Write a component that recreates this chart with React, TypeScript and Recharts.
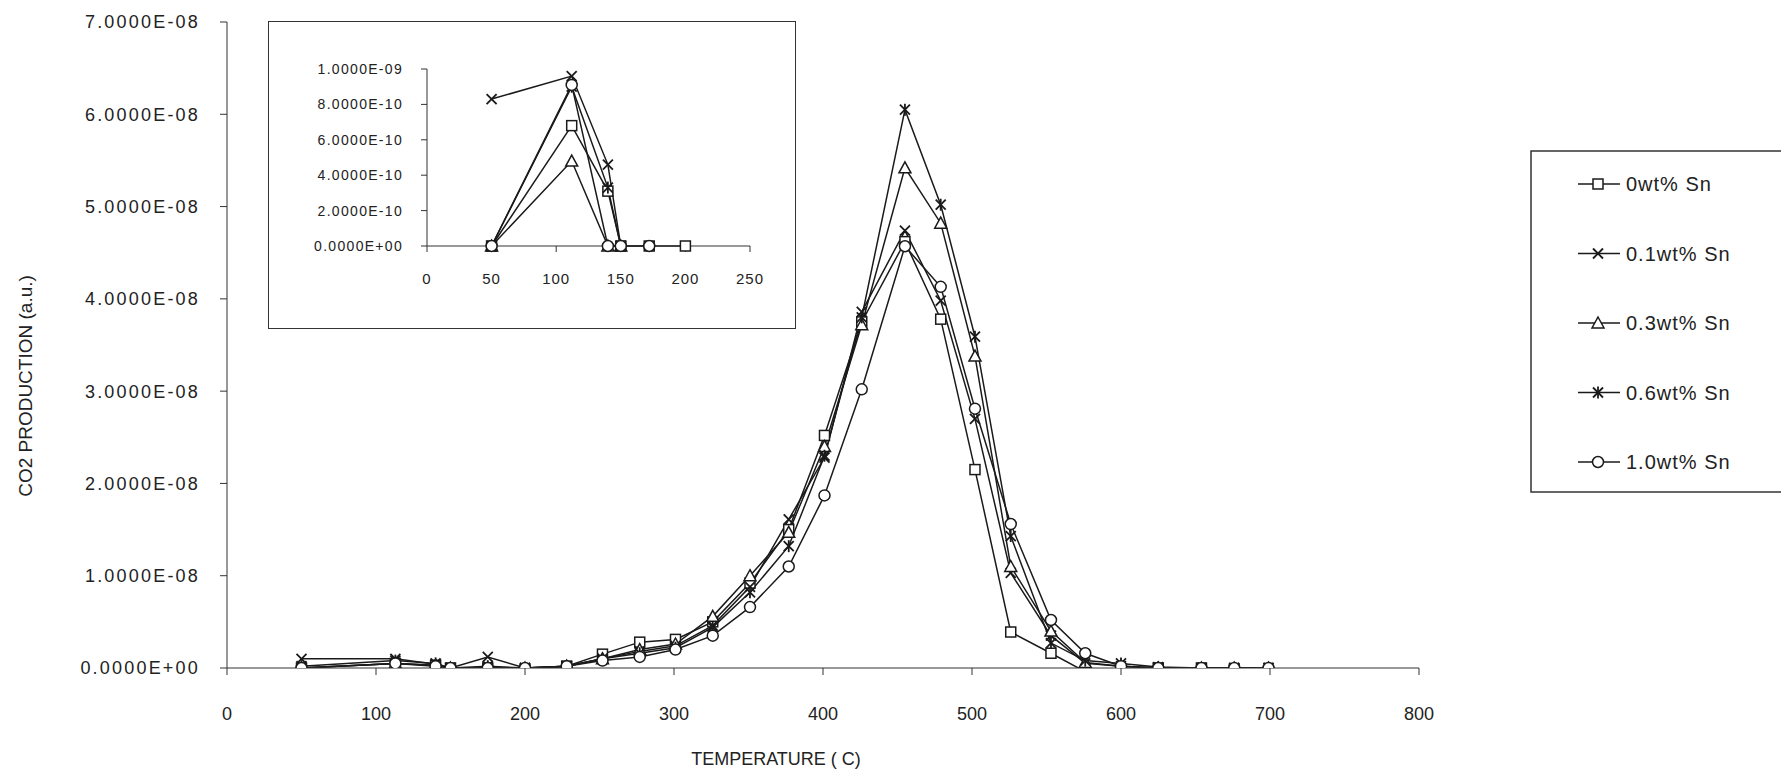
import { LineChart, Line, XAxis, YAxis, Label } from 'recharts';

// main chart: temperature (C) and CO2 production in units of 1E-08
const temps = [50, 113, 140, 150, 175, 200, 228, 252, 277, 301, 326, 351, 377, 401, 426, 455, 479, 502, 526, 553, 576, 600, 625, 654, 676, 699];
const sn0 = [0, 0.05, 0.03, 0, 0, -0.02, 0.02, 0.15, 0.28, 0.31, 0.5, 0.92, 1.5, 2.52, 3.75, 4.62, 3.78, 2.15, 0.39, 0.16, -0.04, -0.01, 0, 0, -0.02, -0.05];
const sn01 = [0.1, 0.1, 0.04, 0, 0.12, 0, 0.02, 0.1, 0.18, 0.24, 0.46, 0.88, 1.61, 2.28, 3.86, 4.74, 3.98, 2.7, 1.03, 0.35, 0.05, 0.02, 0, 0, 0, 0];
const sn03 = [0, 0.05, 0.03, 0, 0, 0, 0.02, 0.1, 0.2, 0.26, 0.56, 1.0, 1.47, 2.4, 3.72, 5.42, 4.82, 3.38, 1.1, 0.4, 0.06, 0.02, 0, 0, 0, 0];
const sn06 = [0.02, 0.08, 0.05, 0, 0.02, 0, 0.02, 0.1, 0.16, 0.22, 0.44, 0.82, 1.32, 2.3, 3.8, 6.05, 5.02, 3.59, 1.43, 0.27, 0.08, 0.05, 0.01, 0, 0, 0];
const sn10 = [0, 0.05, 0.02, 0, 0, 0, 0.02, 0.08, 0.12, 0.2, 0.35, 0.66, 1.1, 1.87, 3.02, 4.57, 4.13, 2.81, 1.56, 0.52, 0.16, 0.02, 0, 0, 0, 0];

// inset: low temperature region, units of 1E-10
const insetTemps = [50, 112, 140, 150, 172, 200];
const inSn0 = [0, 6.8, 3.1, 0, 0, 0];
const inSn01 = [8.3, 9.6, 4.6, 0, null, null];
const inSn03 = [0, 4.8, 0, 0, null, null];
const inSn06 = [0, 9.0, 3.3, 0, null, null];
const inSn10 = [0, 9.1, 0, 0, 0, null];

const xTicks = [0, 100, 200, 300, 400, 500, 600, 700, 800];
const yTicks = [0, 1, 2, 3, 4, 5, 6, 7];
const insetXTicks = [0, 50, 100, 150, 200, 250];
const insetYTicks = [0, 2, 4, 6, 8, 10];

const SERIES = [
  { key: 'sn0', name: '0wt% Sn', kind: 'square' },
  { key: 'sn01', name: '0.1wt% Sn', kind: 'cross' },
  { key: 'sn03', name: '0.3wt% Sn', kind: 'triangle' },
  { key: 'sn06', name: '0.6wt% Sn', kind: 'star' },
  { key: 'sn10', name: '1.0wt% Sn', kind: 'circle' },
];

const mainData = temps.map((t, i) => ({ t, sn0: sn0[i], sn01: sn01[i], sn03: sn03[i], sn06: sn06[i], sn10: sn10[i] }));
const insetData = insetTemps.map((t, i) => ({ t, sn0: inSn0[i], sn01: inSn01[i], sn03: inSn03[i], sn06: inSn06[i], sn10: inSn10[i] }));

const INK = '#1a1a1a';
const FONT = '"Liberation Sans", Arial, sans-serif';

const fmtE = (v: number) => {
  if (Math.abs(v) < 1e-20) return '0.0000E+00';
  const [m, e] = v.toExponential(4).split('e');
  const sign = e[0] === '-' ? '-' : '+';
  const digits = e.replace(/[+-]/, '').padStart(2, '0');
  return `${m}E${sign}${digits}`;
};

const Marker = ({ kind, cx, cy, s = 5 }: { kind: string; cx: number; cy: number; s?: number }) => {
  const sw = 1.5;
  switch (kind) {
    case 'square':
      return <rect x={cx - s} y={cy - s} width={s * 2} height={s * 2} fill="#fff" stroke={INK} strokeWidth={sw} />;
    case 'cross':
      return (
        <g stroke={INK} strokeWidth={sw + 0.3}>
          <line x1={cx - s} y1={cy - s} x2={cx + s} y2={cy + s} />
          <line x1={cx - s} y1={cy + s} x2={cx + s} y2={cy - s} />
        </g>
      );
    case 'triangle':
      return <polygon points={`${cx},${cy - s - 1} ${cx + s + 1},${cy + s} ${cx - s - 1},${cy + s}`} fill="#fff" stroke={INK} strokeWidth={sw} />;
    case 'star':
      return (
        <g stroke={INK} strokeWidth={sw + 0.3}>
          <line x1={cx - s} y1={cy - s} x2={cx + s} y2={cy + s} />
          <line x1={cx - s} y1={cy + s} x2={cx + s} y2={cy - s} />
          <line x1={cx} y1={cy - s - 1} x2={cx} y2={cy + s + 1} />
        </g>
      );
    default:
      return <circle cx={cx} cy={cy} r={s + 0.5} fill="#fff" stroke={INK} strokeWidth={sw} />;
  }
};

const dotFor = (kind: string, s: number) => (props: any) => {
  const { cx, cy, index, value } = props;
  if (cx == null || cy == null || value == null || Number.isNaN(cy)) return <g key={`${kind}-${index}`} />;
  return (
    <g key={`${kind}-${index}`}>
      <Marker kind={kind} cx={cx} cy={cy} s={s} />
    </g>
  );
};

const SeriesLegend = () => (
  <svg width={251} height={343} style={{ position: 'absolute', left: 1530, top: 150, display: 'block' }}>
    <path d="M251,1 H1 V342 H251" fill="none" stroke="#333" strokeWidth={1.5} />
    {SERIES.map((s, i) => {
      const y = 34 + i * 69.5;
      return (
        <g key={s.key}>
          <line x1={48} y1={y} x2={90} y2={y} stroke={INK} strokeWidth={1.6} />
          <Marker kind={s.kind} cx={68} cy={y} s={5} />
          <text x={96} y={y} dominantBaseline="central" fontSize={20} letterSpacing={1} fill="#222" fontFamily={FONT}>
            {s.name}
          </text>
        </g>
      );
    })}
  </svg>
);

const tickStyle = { fontSize: 18, fill: '#222', fontFamily: FONT, letterSpacing: 2.2 };

export default function App() {
  return (
    <div style={{ position: 'absolute', left: 0, top: 0, width: 1781, height: 777, background: '#fff', fontFamily: FONT }}>
      <LineChart width={1781} height={777} data={mainData} margin={{ top: 22, right: 362, bottom: 0, left: 0 }}>
        <XAxis
          dataKey="t"
          type="number"
          domain={[0, 800]}
          ticks={xTicks}
          height={109}
          tickSize={7}
          tickMargin={32}
          stroke="#333"
          tick={{ fontSize: 18, fill: '#222', fontFamily: FONT }}
        >
          <Label
            content={() => (
              <text x={776} y={759} textAnchor="middle" dominantBaseline="central" fontSize={18} fill="#222" fontFamily={FONT}>
                TEMPERATURE ( C)
              </text>
            )}
          />
        </XAxis>
        <YAxis
          type="number"
          domain={[0, 7]}
          ticks={yTicks}
          allowDataOverflow
          width={227}
          tickSize={7}
          tickMargin={20}
          stroke="#333"
          tick={tickStyle}
          tickFormatter={(v: number) => fmtE(v * 1e-8)}
        >
          <Label
            content={() => (
              <text x={25} y={386} transform="rotate(-90 25 386)" textAnchor="middle" dominantBaseline="central" fontSize={19} fill="#222" fontFamily={FONT}>
                CO2 PRODUCTION (a.u.)
              </text>
            )}
          />
        </YAxis>
        {SERIES.map((s) => (
          <Line
            key={s.key}
            dataKey={s.key}
            name={s.name}
            type="linear"
            stroke={INK}
            strokeWidth={1.5}
            dot={dotFor(s.kind, 5)}
            activeDot={false}
            isAnimationActive={false}
          />
        ))}
      </LineChart>

      <div style={{ position: 'absolute', left: 269, top: 22, width: 526, height: 306, background: '#fff', outline: '1.5px solid #333' }}>
        <LineChart width={526} height={306} data={insetData} margin={{ top: 47, right: 45, bottom: 0, left: 0 }}>
          <XAxis
            dataKey="t"
            type="number"
            domain={[0, 250]}
            ticks={insetXTicks}
            height={82}
            tickSize={6}
            tickMargin={21}
            stroke="#333"
            tick={{ fontSize: 15, fill: '#222', fontFamily: FONT, letterSpacing: 1 }}
          />
          <YAxis
            type="number"
            domain={[0, 10]}
            ticks={insetYTicks}
            width={158}
            tickSize={6}
            tickMargin={18}
            stroke="#333"
            tick={{ fontSize: 14, fill: '#222', fontFamily: FONT, letterSpacing: 1.3 }}
            tickFormatter={(v: number) => fmtE(v * 1e-10)}
          />
          {SERIES.map((s) => (
            <Line
              key={s.key}
              dataKey={s.key}
              name={s.name}
              type="linear"
              stroke={INK}
              strokeWidth={1.5}
              dot={dotFor(s.kind, 5)}
              activeDot={false}
              isAnimationActive={false}
            />
          ))}
        </LineChart>
      </div>

      <SeriesLegend />
    </div>
  );
}
